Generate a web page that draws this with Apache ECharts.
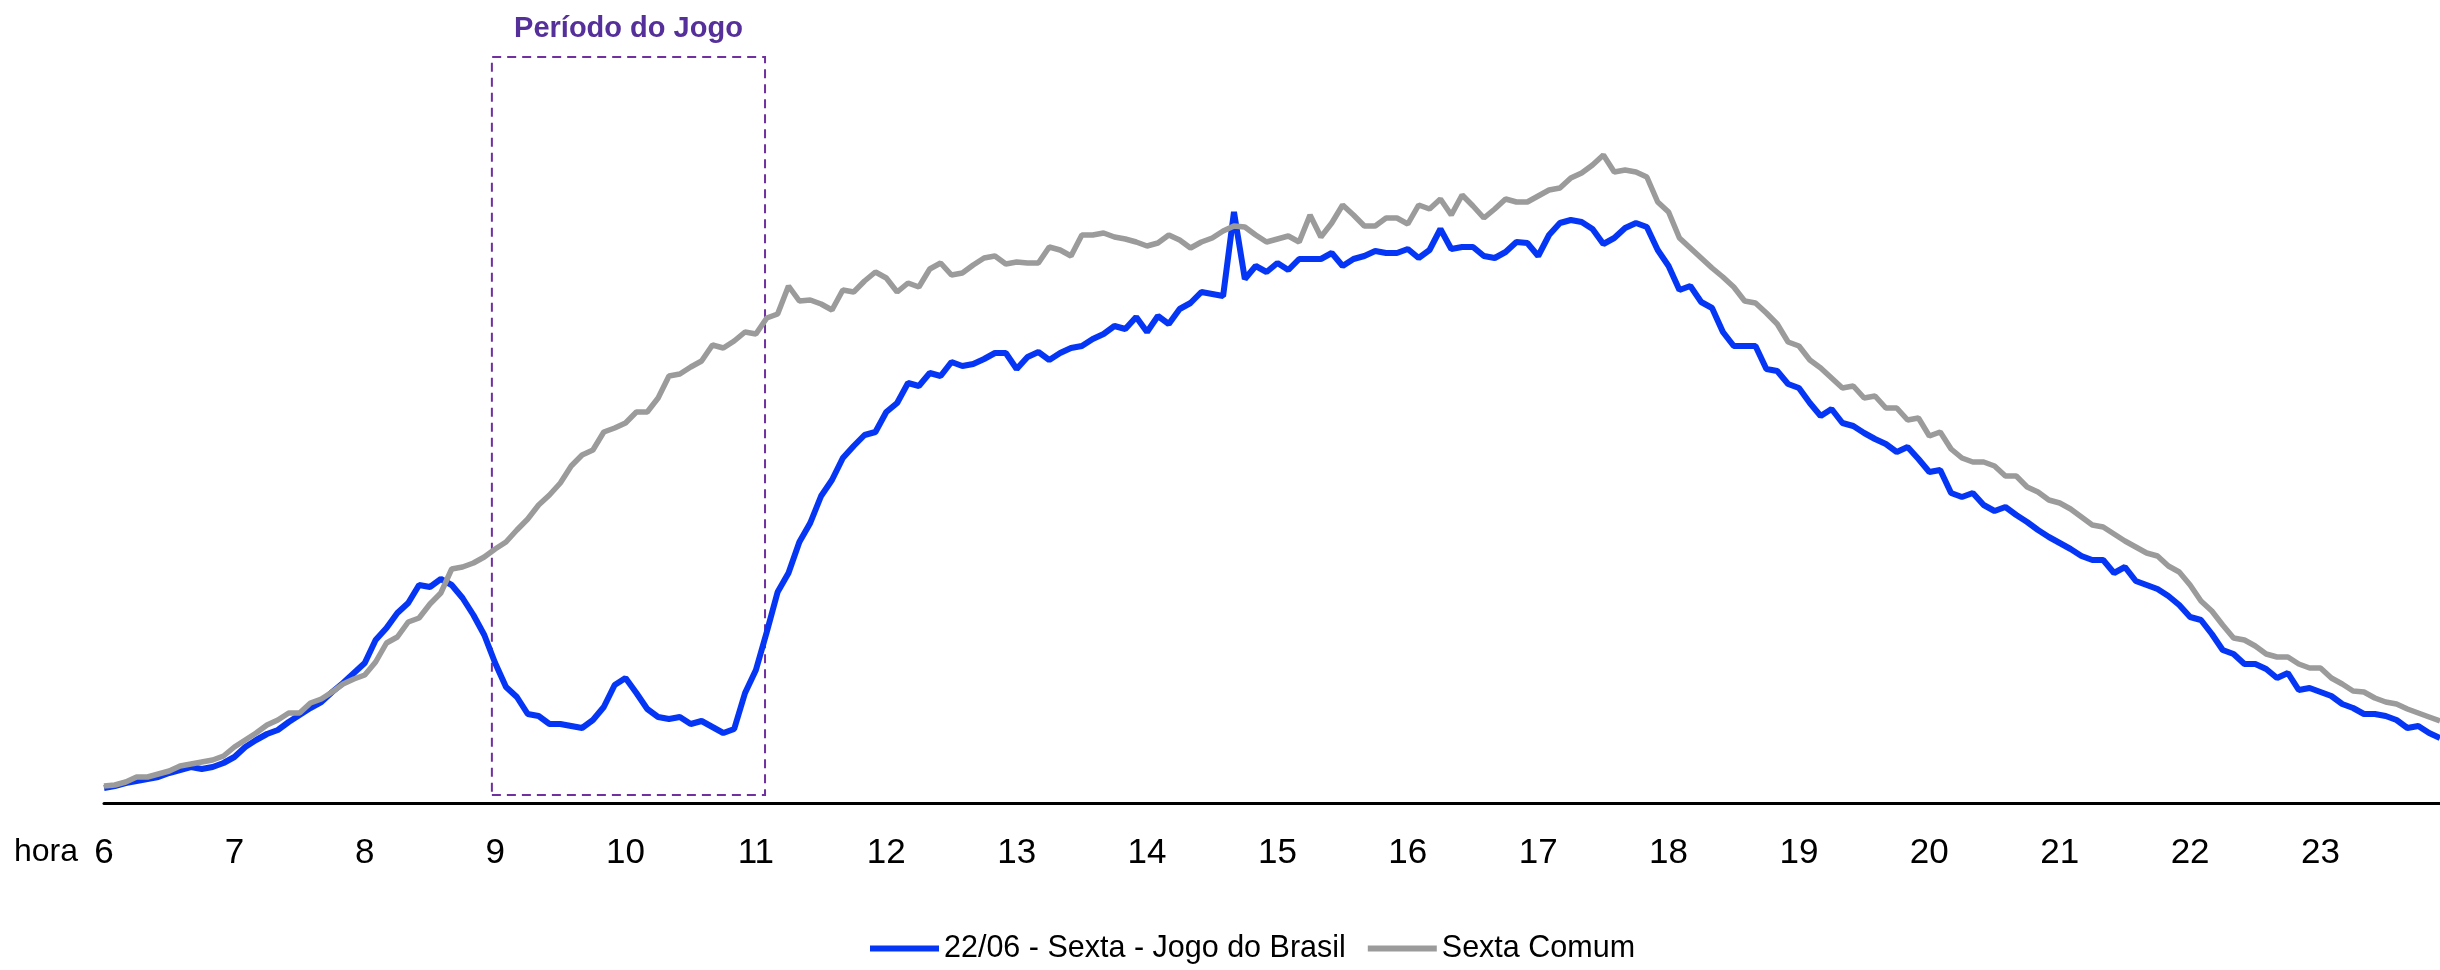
<!DOCTYPE html>
<html>
<head>
<meta charset="utf-8">
<script src="https://cdn.jsdelivr.net/npm/echarts@6/dist/echarts.min.js"></script>
<style>
  html, body { margin: 0; padding: 0; background: #fff; }
  #chart { width: 2440px; height: 970px; }
</style>
</head>
<body>
<div id="chart"></div>
<script>
// carga a cada 5 minutos, das 06:00 às 23:55 (216 pontos)
let horas = [6, 7, 8, 9, 10, 11, 12, 13, 14, 15, 16, 17, 18, 19, 20, 21, 22, 23];

let jogoBrasil = [
    15, 17, 20, 22, 24, 26, 30, 33, 36, 34, 36, 40,
    46, 56, 63, 69, 73, 81, 88, 95, 101, 111, 120, 130,
    140, 163, 175, 190, 200, 218, 216, 224, 218, 205, 188, 168,
    140, 116, 106, 89, 87, 79, 79, 77, 75, 83, 96, 118,
    125, 110, 94, 86, 84, 86, 79, 82, 76, 70, 74, 110,
    133, 171, 211, 230, 261, 280, 307, 323, 345, 357, 368, 371,
    391, 400, 420, 417, 430, 427, 441, 437, 439, 444, 450, 450,
    434, 446, 451, 443, 450, 455, 457, 464, 469, 477, 474, 486,
    471, 487, 479, 494, 500, 511, 509, 507, 591, 524, 537, 531,
    540, 533, 544, 544, 544, 550, 537, 544, 547, 552, 550, 550,
    554, 545, 553, 574, 554, 556, 556, 547, 545, 551, 561, 560,
    547, 568, 580, 583, 581, 574, 559, 565, 575, 580, 576, 553,
    537, 513, 517, 501, 495, 471, 457, 457, 457, 434, 432, 419,
    415, 400, 387, 394, 380, 377, 370, 364, 359, 351, 356, 344,
    331, 333, 310, 306, 310, 298, 292, 296, 288, 281, 273, 266,
    260, 254, 247, 243, 243, 230, 236, 222, 218, 214, 207, 198,
    186, 183, 169, 153, 149, 139, 139, 134, 125, 130, 113, 115,
    111, 107, 99, 95, 89, 89, 87, 83, 75, 77, 70, 65
];

let sextaComum = [
    17, 18, 21, 26, 26, 29, 32, 37, 39, 41, 43, 47,
    56, 63, 70, 78, 83, 90, 90, 100, 104, 111, 119, 124,
    128, 141, 160, 166, 181, 185, 199, 210, 234, 236, 240, 246,
    254, 261, 273, 284, 298, 308, 320, 337, 348, 353, 371, 375,
    380, 391, 391, 405, 427, 429, 436, 442, 458, 455, 462, 471,
    469, 485, 489, 517, 502, 503, 499, 493, 513, 511, 522, 531,
    525, 511, 520, 516, 534, 540, 528, 530, 538, 545, 547, 539,
    541, 540, 540, 556, 553, 547, 568, 568, 570, 566, 564, 561,
    557, 560, 568, 563, 555, 561, 565, 572, 577, 576, 568, 561,
    564, 567, 561, 588, 566, 580, 598, 588, 577, 577, 585, 585,
    579, 598, 594, 604, 588, 608, 597, 585, 594, 604, 601, 601,
    607, 613, 615, 625, 630, 638, 648, 631, 633, 631, 626, 601,
    591, 565, 555, 545, 535, 526, 516, 502, 500, 490, 479, 461,
    457, 443, 435, 425, 415, 417, 405, 407, 395, 395, 383, 385,
    367, 371, 354, 345, 341, 341, 337, 327, 327, 316, 311, 303,
    300, 294, 286, 278, 276, 269, 262, 256, 250, 247, 237, 231,
    218, 202, 192, 178, 165, 163, 157, 149, 146, 146, 139, 135,
    135, 125, 119, 112, 111, 105, 101, 99, 94, 90, 86, 82
];

let nomes = ['22/06 - Sexta - Jogo do Brasil', 'Sexta Comum'];
let periodoJogo = [8.975, 11.07];

const FONTE = '"Liberation Sans Narrow", "Arial Narrow", "Liberation Sans", sans-serif';

// hora decimal de cada ponto (passo de 5 min)
let comHora = function(serie){
    return serie.map(function(v, i){ return [horas[0] + i / 12, v]; });
};

let chart = echarts.init(document.getElementById('chart'));

let option = {
    animation: false,
    backgroundColor: '#fff',
    grid: { left: 104, right: -8, top: 57, bottom: 167, containLabel: false },
    legend: {
        data: nomes,
        left: 865,
        top: 928,
        icon: 'rect',
        itemWidth: 69,
        itemHeight: 6,
        itemGap: 22,
        itemTextGap: 11,
        textStyle: { fontSize: 30.5, color: '#000', fontFamily: FONTE }
    },
    xAxis: {
        type: 'value',
        min: horas[0],
        max: horas[0] + 215 / 12,
        interval: 1,
        axisLine: { show: true, lineStyle: { color: '#000', width: 3 } },
        axisTick: { show: false },
        splitLine: { show: false },
        axisLabel: {
            margin: 33,
            fontSize: 35,
            color: '#000',
            fontFamily: FONTE,
            showMaxLabel: false,
            formatter: function(v){ return Number.isInteger(v) ? String(v) : ''; }
        }
    },
    yAxis: {
        type: 'value',
        min: 0,
        max: 746,
        show: false,
        splitLine: { show: false }
    },
    graphic: [{
        type: 'text',
        left: 14,
        top: 836,
        style: { text: 'hora', fontSize: 32, fill: '#000', fontFamily: FONTE }
    }],
    series: [
        {
            name: nomes[0],
            type: 'line',
            data: comHora(jogoBrasil),
            showSymbol: false,
            lineStyle: { color: '#0636f5', width: 6 },
            itemStyle: { color: '#0636f5' }
        },
        {
            name: nomes[1],
            type: 'line',
            data: comHora(sextaComum),
            showSymbol: false,
            lineStyle: { color: '#9b9b9b', width: 5.5 },
            itemStyle: { color: '#9b9b9b' },
            markArea: {
                silent: true,
                itemStyle: {
                    color: 'rgba(0,0,0,0)',
                    borderColor: '#7030a0',
                    borderWidth: 2,
                    borderType: [9, 6]
                },
                label: {
                    show: true,
                    position: 'top',
                    distance: 13,
                    formatter: 'Período do Jogo',
                    color: '#56309a',
                    fontSize: 29,
                    fontWeight: 'bold',
                    fontFamily: FONTE
                },
                data: [[
                    { xAxis: periodoJogo[0], yAxis: 8 },
                    { xAxis: periodoJogo[1], yAxis: 746 }
                ]]
            }
        }
    ]
};

chart.setOption(option);
</script>
</body>
</html>
